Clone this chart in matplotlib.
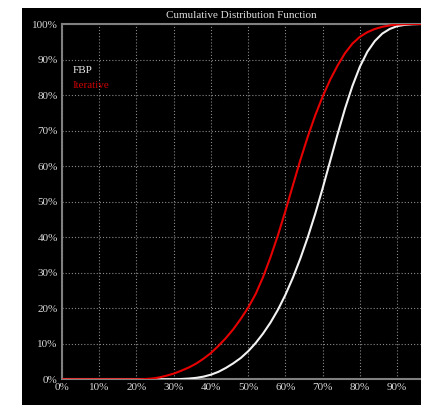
import matplotlib
matplotlib.use('Agg')
import matplotlib.pyplot as plt
from matplotlib.patches import Rectangle
from matplotlib.ticker import FuncFormatter

# valores (percentuais)
fbp_x = [0, 28, 30, 32, 34, 36, 38, 40, 42, 44, 46, 48, 50, 52, 54, 56, 58, 60, 62, 64,
         66, 68, 70, 72, 74, 76, 78, 80, 82, 84, 86, 88, 90, 92, 94, 96.4]
fbp_y = [0, 0, 0.02, 0.08, 0.2, 0.4, 0.75, 1.3, 2.1, 3.2, 4.5, 6.0, 7.9, 10.2, 12.9, 16.0,
         19.6, 23.8, 28.6, 34.0, 40.0, 46.6, 53.8, 61.4, 69.0, 76.2, 82.6, 88.0, 92.2,
         95.2, 97.3, 98.6, 99.4, 99.75, 99.92, 100]

iter_x = [0, 20, 22, 24, 26, 28, 30, 32, 34, 36, 38, 40, 42, 44, 46, 48, 50, 52, 54, 56,
          58, 60, 62, 64, 66, 68, 70, 72, 74, 76, 78, 80, 82, 84, 86, 88, 90, 92, 94, 96.4]
iter_y = [0, 0, 0.05, 0.2, 0.5, 1.0, 1.6, 2.4, 3.3, 4.4, 5.8, 7.4, 9.4, 11.6, 14.1, 17.0,
          20.2, 24.0, 28.8, 34.4, 40.6, 47.4, 54.6, 61.7, 68.3, 74.3, 79.6, 84.3, 88.3,
          91.8, 94.5, 96.4, 97.7, 98.6, 99.2, 99.6, 99.85, 99.95, 100, 100]

ticks = [0, 10, 20, 30, 40, 50, 60, 70, 80, 90, 100]

W, H = 421, 405
fig = plt.figure(figsize=(W / 100, H / 100), dpi=100, facecolor='white')

# fundo preto do painel
fig.patches.append(Rectangle((22 / W, 0), (W - 22) / W, (H - 8) / H,
                             transform=fig.transFigure, facecolor='black',
                             edgecolor='none', zorder=-10))

ax = fig.add_axes([62 / W, (H - 379.3) / H, (W - 62) / W, (379.3 - 24) / H])
ax.set_facecolor('black')

ax.plot(fbp_x, fbp_y, color='#f2f2f2', lw=1.5, zorder=3)
ax.plot(iter_x, iter_y, color='#e60000', lw=1.5, zorder=4)

ax.set_xlim(0, 96.4)
ax.set_ylim(0, 100)
ax.set_xticks(ticks[:-1])
ax.set_yticks(ticks)
fmt = FuncFormatter(lambda v, p: f'{int(v)}%')
ax.xaxis.set_major_formatter(fmt)
ax.yaxis.set_major_formatter(fmt)

for lab in ax.get_xticklabels() + ax.get_yticklabels():
    lab.set_fontfamily('Liberation Serif')
    lab.set_fontsize(8)
    lab.set_color('#d8d8d8')
ax.tick_params(length=0, pad=3)

ax.grid(True, color='#8a8a8a', lw=0.8, linestyle=(0, (1, 1.8)))
for s in ['left', 'bottom', 'top']:
    ax.spines[s].set_color('#808080')
    ax.spines[s].set_linewidth(1.5)
ax.spines['right'].set_visible(False)

# titulo
fig.text((62 + 421) / 2 / W, (H - 15) / H, 'Cumulative Distribution Function',
         ha='center', va='center', color='#e0e0e0', fontsize=8,
         fontfamily='Liberation Serif')

# legenda em texto
ax.text(0.029, 0.870, 'FBP', transform=ax.transAxes, color='#e8e8e8', fontsize=8,
        fontfamily='Liberation Serif', va='center')
ax.text(0.029, 0.828, 'Iterative', transform=ax.transAxes, color='#cc0000', fontsize=8,
        fontfamily='Liberation Serif', va='center')

fig.savefig('out.png', dpi=100, facecolor='white')
